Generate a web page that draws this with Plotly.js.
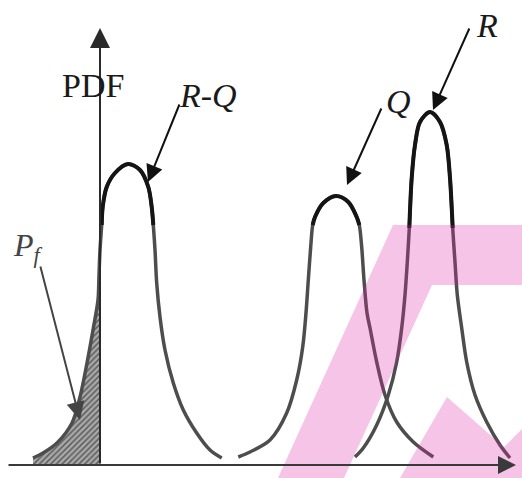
<!DOCTYPE html>
<html>
<head>
<meta charset="utf-8">
<script src="https://cdn.plot.ly/plotly-3.0.1.min.js"></script>
<style>html,body{margin:0;padding:0;background:#fff;}#chart{width:522px;height:478px;}</style>
</head>
<body>
<div id="chart"></div>
<script>
// Curve R-Q (x, y)
const rqX = [-67,-57,-43,-28,-20,-13,-7,-2,-1,0,1.7,2.7,6.7,15,28,40,48.3,51.7,53.3,55,56.7,60,65,73.3,83.3,96.7,110,121.7];
const rqY = [7,12,22,42,68,102,135,165,190,215,240,258,278,292,301,295,278,258,240,215,182,148,115,82,55,32,15,7];
// Curve Q
const qX = [138.3,150,170,186.7,196.7,202.7,206,208.3,210.7,212.7,215,223.3,236,248.3,256.7,259.3,261.7,264,267,270,276.7,285,296.7,313.3,333.3];
const qY = [8,13,25,52,85,118,152,185,218,240,248,262,269,263,248,240,218,185,152,137,103,70,43,23,8];
// Curve R
const rX = [255,263.3,276.7,288.3,296.7,301.7,305,307.3,309.3,311.7,315,320,330,340,346.7,350,352.7,355,357.3,361.7,366.7,375,386.7,400,410];
const rY = [8,17,40,70,103,137,170,203,237,287,320,343,353,343,320,287,237,203,170,137,103,70,43,20,7];
// Labels
const labels = {pdf: 'PDF', rq: '<i>R</i>-<i>Q</i>', q: '<i>Q</i>', r: '<i>R</i>', pf: '<i>P</i><sub><i>f</i></sub>'};

const DARK = 236;
function topPart(xs, ys) {
  const ox = [], oy = [];
  xs.forEach((x, i) => { if (ys[i] >= DARK) { ox.push(x); oy.push(ys[i]); } });
  return {x: ox, y: oy};
}
// shaded tail of R-Q left of the y axis
const shX = [], shY = [];
rqX.forEach((x, i) => { if (x <= 0) { shX.push(x); shY.push(rqY[i]); } });
shX.push(0, rqX[0]); shY.push(0, 0);

const grayLine = {color: '#4d4d4d', width: 3.5, shape: 'spline', smoothing: 0.9};
const blackLine = {color: '#151515', width: 4, shape: 'spline', smoothing: 0.9};
const traces = [
  {x: shX, y: shY, mode: 'lines', fill: 'toself', line: {width: 0, color: 'rgba(0,0,0,0)'},
   fillcolor: '#9a9a9a', fillpattern: {shape: '/', bgcolor: '#a8a8a8', fgcolor: '#555', size: 4, solidity: 0.35}, hoverinfo: 'skip'},
  {x: rqX, y: rqY, mode: 'lines', line: grayLine},
  {x: qX, y: qY, mode: 'lines', line: grayLine},
  {x: rX, y: rY, mode: 'lines', line: grayLine}
];
[[rqX, rqY], [qX, qY], [rX, rY]].forEach(([xs, ys]) => {
  const t = topPart(xs, ys);
  traces.push({x: t.x, y: t.y, mode: 'lines', line: blackLine});
});

function arrow(tx, ty, fx, fy, color, size, width) {
  return {x: tx, y: ty, ax: fx, ay: fy, xref: 'x', yref: 'y', axref: 'x', ayref: 'y', text: '',
    showarrow: true, arrowhead: 2, arrowsize: size, arrowwidth: width, arrowcolor: color, standoff: 0, startstandoff: 0};
}
function label(x, y, text, size, color) {
  return {x: x, y: y, xref: 'x', yref: 'y', text: text, showarrow: false, xanchor: 'center', yanchor: 'middle',
    font: {family: 'Liberation Serif, Times New Roman, serif', size: size, color: color}};
}
const annotations = [
  arrow(416, 0, -93, 0, '#3a3a3a', 1.8, 2),   // x axis
  arrow(0, 437, 0, 0, '#2a2a2a', 2, 2),       // y axis
  arrow(-20, 45, -60, 200, '#444', 1.8, 2),   // Pf
  arrow(48, 283, 80, 362, '#111', 1.7, 2),    // R-Q
  arrow(247, 280, 282, 358, '#111', 1.7, 2),  // Q
  arrow(333, 355, 370, 438, '#111', 1.7, 2),  // R
  label(-7, 380, labels.pdf, 34, '#1a1a1a'),
  label(108, 370, labels.rq, 34, '#1a1a1a'),
  label(298, 364, labels.q, 34, '#1a1a1a'),
  label(387, 440, labels.r, 34, '#1a1a1a'),
  label(-72, 218, labels.pf, 32, '#444')
];

const P = (x, y) => (x - 100) + ',' + (465 - y);
const wm = {type: 'path', xref: 'x', yref: 'y', layer: 'above', fillcolor: '#de25a7', opacity: 0.27, line: {width: 0}};
const shapes = [
  Object.assign({}, wm, {path: 'M' + P(393,225) + 'L' + P(522,225) + 'L' + P(522,285) + 'L' + P(432,285) + 'L' + P(344,478) + 'L' + P(278,478) + 'Z'}),
  Object.assign({}, wm, {path: 'M' + P(447,397) + 'L' + P(504,447) + 'L' + P(522,429) + 'L' + P(522,478) + 'L' + P(400,478) + 'Z'})
];

const layout = {
  width: 522, height: 478, margin: {l: 0, r: 0, t: 0, b: 0},
  paper_bgcolor: '#fff', plot_bgcolor: '#fff', showlegend: false,
  xaxis: {range: [-100, 422], visible: false, fixedrange: true},
  yaxis: {range: [-13, 465], visible: false, fixedrange: true},
  annotations: annotations, shapes: shapes
};
Plotly.newPlot('chart', traces, layout, {displayModeBar: false, staticPlot: true});
</script>
</body>
</html>
